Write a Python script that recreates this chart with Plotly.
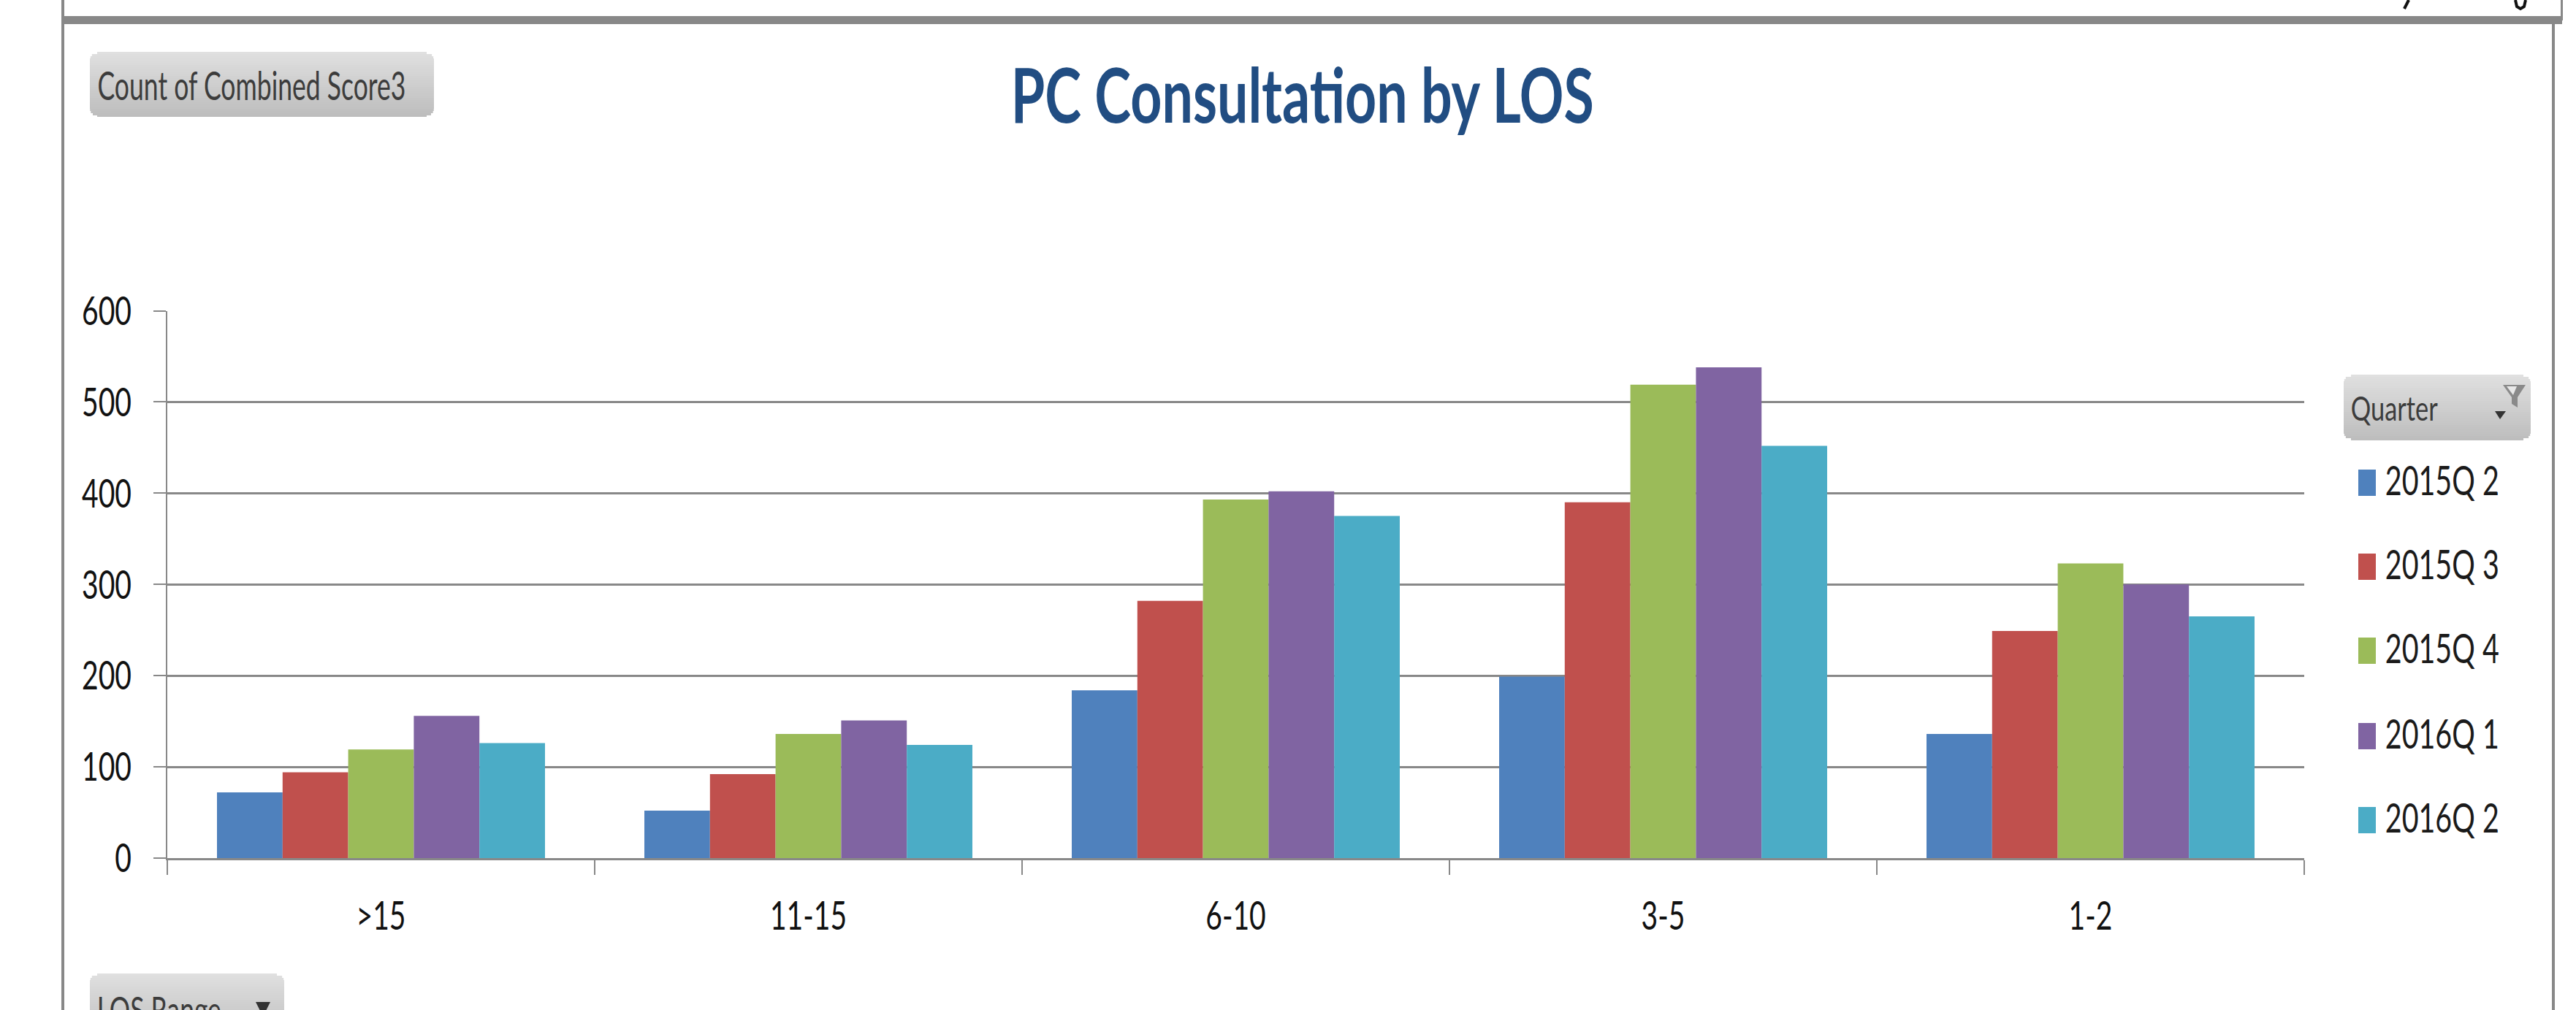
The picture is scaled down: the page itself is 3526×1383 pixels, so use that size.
import plotly.graph_objects as go

categories = [">15", "11-15", "6-10", "3-5", "1-2"]
q2015_2 = [72, 52, 184, 199, 136]
q2015_3 = [94, 92, 282, 390, 249]
q2015_4 = [119, 136, 393, 519, 323]
q2016_1 = [156, 151, 402, 538, 300]
q2016_2 = [126, 124, 375, 452, 265]
series_names = ["2015Q 2", "2015Q 3", "2015Q 4", "2016Q 1", "2016Q 2"]
series_values = [q2015_2, q2015_3, q2015_4, q2016_1, q2016_2]
series_colors = ["#4F81BD", "#C0504D", "#9BBB59", "#8064A2", "#4BACC6"]
y_ticks = [0, 100, 200, 300, 400, 500, 600]

W, H = 3526, 1383
FONT = "Lato, Open Sans, sans-serif"
GREY = "#888888"


def px(x):
    return x / W


def py(y):
    return 1 - y / H


fig = go.Figure()
for name, vals, col in zip(series_names, series_values, series_colors):
    fig.add_bar(name=name, x=categories, y=vals, marker_color=col, marker_line_width=0, showlegend=False)

shapes = []
annotations = []


def rect(x0, y0, x1, y1, color):
    shapes.append(dict(type="rect", xref="paper", yref="paper", x0=px(x0), x1=px(x1), y0=py(y0), y1=py(y1),
                       fillcolor=color, line_width=0, layer="above"))


def poly(points, color, close=True, line=0):
    d = "M " + " L ".join(f"{px(x):.6f},{py(y):.6f}" for x, y in points) + (" Z" if close else "")
    shapes.append(dict(type="path", xref="paper", yref="paper", path=d,
                       fillcolor=color if close else "rgba(0,0,0,0)",
                       line=dict(color=color, width=line), layer="above"))


def text(s, x, y, size, color="#111111", weight="normal"):
    annotations.append(dict(text=s, xref="paper", yref="paper", x=px(x), y=py(y),
                            xanchor="center", yanchor="middle", showarrow=False, borderpad=0, borderwidth=0,
                            font=dict(family=FONT, size=size, color=color, weight=weight)))


def button(x0, y0, x1, y1, label, tx, ty, size):
    r = 10
    rect(x0 + r, y0, x1 - r, y0 + 2, "#c4c4c4")
    rows = int(y1 - y0)
    step = 3
    for i in range(0, rows, step):
        yy = y0 + i
        d_top = i
        d_bot = rows - i - step
        inset = 0
        if d_top < r:
            inset = r - (r * r - (r - d_top) ** 2) ** 0.5
        elif d_bot < r:
            inset = r - (r * r - (r - max(d_bot, 0)) ** 2) ** 0.5
        t = i / max(rows - 1, 1)
        c = int(224 - t * (224 - 189))
        rect(x0 + inset, yy, x1 - inset, min(yy + step, y1), f"rgb({c},{c},{c})")
    text(label, tx, ty, size, color="#3c3c3c")


# outer frame of the worksheet
rect(84, 22, 3507, 33, GREY)
rect(84, 0, 88, 22, GREY)
rect(84, 33, 88, H, GREY)
rect(3493, 33, 3497, H, GREY)
rect(3505, 0, 3508, 28, GREY)
# cropped descenders of the text above the frame
poly([(3297, 0), (3291, 12)], "#111111", close=False, line=4)
poly([(3443, 0), (3445, 9), (3450, 12), (3455, 9), (3457, 0)], "#111111", close=False, line=4)

# title
text("PC Consultation by LOS", 1783, 128, 104, color="#214D82", weight="bold")

# field buttons
button(123, 71, 594, 160, "Count of Combined Score3", 344, 116, 54)
button(3208, 513, 3464, 603, "Quarter", 3277, 558, 47)
button(123, 1333, 389, 1423, "LOS Range", 218, 1382, 50)
poly([(350, 1372), (370, 1372), (360, 1392)], "#333333")
poly([(3415, 563), (3430, 563), (3422, 574)], "#333333")
poly([(3426, 527), (3457, 527), (3446, 544), (3446, 558), (3438, 553), (3438, 544)], "#8a8a8a")
poly([(3431, 529), (3445, 529), (3440, 541)], "#e8e8e8")

# legend
legend_rows = [661, 776, 891, 1008, 1123]
for name, col, cy in zip(series_names, series_colors, legend_rows):
    rect(3228, cy - 18, 3252, cy + 18, col)
    text(name, 3343, cy - 5, 57, color="#1a1a1a")

fig.update_layout(
    width=W, height=H, autosize=False,
    margin=dict(l=0, r=0, t=0, b=0, autoexpand=False),
    paper_bgcolor="white", plot_bgcolor="white",
    barmode="group", bargap=0.2325, bargroupgap=0,
    shapes=shapes, annotations=annotations,
    font=dict(family=FONT, color="#111111"),
    xaxis=dict(domain=[px(229), px(3154)], type="category", tickson="boundaries", ticks="outside", ticklen=20,
               tickwidth=2, tickcolor=GREY, showline=True, linecolor=GREY, linewidth=3, showgrid=False,
               tickfont=dict(size=55, family=FONT, color="#111111"), ticklabelstandoff=29, zeroline=False),
    yaxis=dict(domain=[py(1175), py(425.5)], range=[0, 600], tickmode="array", tickvals=y_ticks,
               ticks="outside", ticklen=17, tickwidth=2, tickcolor=GREY, showgrid=True, gridcolor=GREY, gridwidth=2.5,
               showline=True, linecolor=GREY, linewidth=2, zeroline=False,
               tickfont=dict(size=55, family=FONT, color="#111111"), ticklabelstandoff=19),
)

# The reference's text is squeezed horizontally; keep it real text and fit it to the measured widths.
post = """
document.body.style.margin='0';document.body.style.overflow='hidden';
(function(){
  var widths={'PC Consultation by LOS':798,'Count of Combined Score3':422,'Quarter':119,'LOS Range':170,
              '2015Q 2':156,'2015Q 3':156,'2015Q 4':156,'2016Q 1':156,'2016Q 2':156};
  function squeeze(el,len){el.setAttribute('textLength',len);el.setAttribute('lengthAdjust','spacingAndGlyphs');}
  document.querySelectorAll('.annotation-text').forEach(function(t){
    var w=widths[t.textContent]; if(w) squeeze(t,w);
  });
  document.querySelectorAll('.xtick text, .ytick text').forEach(function(t){
    squeeze(t,t.getComputedTextLength()*0.71);
  });
})();
"""
fig.write_html("out.html", config=dict(displayModeBar=False), post_script=post)
